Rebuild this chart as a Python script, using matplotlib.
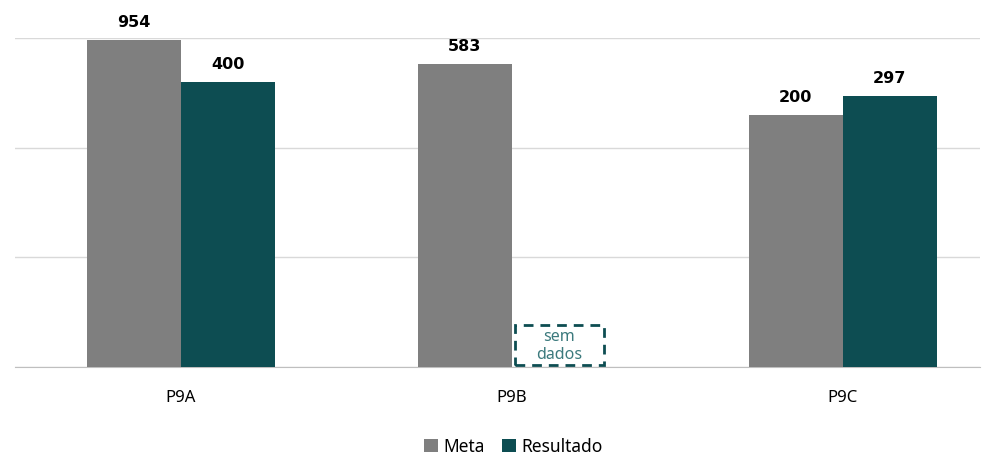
import matplotlib.pyplot as plt
import matplotlib.patches as mpatches
import numpy as np

plt.rcParams['font.family'] = ['Noto Sans', 'DejaVu Sans']

categories = ['P9A', 'P9B', 'P9C']
meta = [954, 583, 200]
resultado = [400, None, 297]

grey = '#7f7f7f'
teal = '#0d4d52'

fig = plt.figure(figsize=(9.87, 4.56), dpi=100)
ax = fig.add_axes([15 / 987, 88 / 456, 965 / 987, 329 / 456])

x = np.arange(len(categories))
w = 0.284

ax.bar(x - w / 2, meta, w, color=grey, label='Meta', zorder=3)
res_vals = [v if v is not None else np.nan for v in resultado]
ax.bar(x + w / 2, res_vals, w, color=teal, label='Resultado', zorder=3)


def label(xpos, v):
    ax.annotate(str(v), (xpos, v), xytext=(0, 8), textcoords='offset points',
                ha='center', va='bottom', fontsize=11.5, fontweight='bold',
                family='DejaVu Sans', annotation_clip=False)


for xi, v in zip(x, meta):
    label(xi - w / 2, v)
for xi, v in zip(x, resultado):
    if v is None:
        trans = ax.get_xaxis_transform()
        box = mpatches.Rectangle((xi + 0.01, 0.006), w - 0.015, 0.122, transform=trans,
                                 fill=False, ec=teal, ls=(0, (3.5, 2.5)), lw=2, zorder=4)
        ax.add_patch(box)
        ax.text(xi + w / 2, 0.067, 'sem\ndados', transform=trans,
                ha='center', va='center', fontsize=11.5, color='#3c7a7d',
                linespacing=1.15, zorder=5)
    else:
        label(xi + w / 2, v)

ax.set_yscale('log')
ax.set_ylim(1, 1000)
ax.set_xlim(-0.5, 2.414)
ax.set_yticks([1, 10, 100, 1000])
ax.set_yticklabels([])
ax.yaxis.set_minor_locator(plt.NullLocator())
ax.tick_params(axis='y', length=0)
ax.tick_params(axis='x', length=0, labelsize=12, pad=16)
ax.set_xticks(x)
ax.set_xticklabels(categories)
ax.grid(axis='y', color='#d9d9d9', lw=1, zorder=0)
for s in ['top', 'right', 'left']:
    ax.spines[s].set_visible(False)
ax.spines['bottom'].set_color('#bfbfbf')

fig.legend(loc='lower center', bbox_to_anchor=(0.52, -0.035), ncol=2, frameon=False,
           fontsize=12.5, handlelength=0.8, handleheight=0.8, handletextpad=0.3,
           columnspacing=1.0)

fig.savefig('out.png', dpi=100)
